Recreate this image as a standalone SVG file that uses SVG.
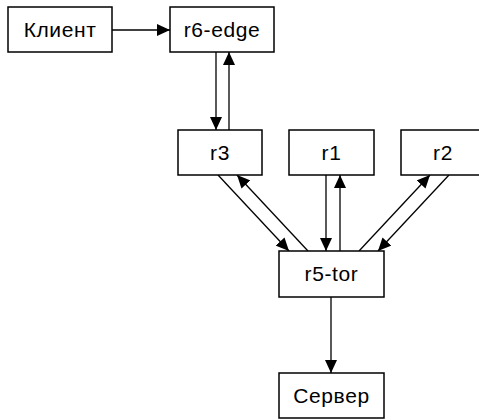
<svg xmlns="http://www.w3.org/2000/svg" width="479" height="420" viewBox="0 0 479 420">
<defs>
<style>
.box{fill:#fff;stroke:#000;stroke-width:1.5}
.lbl{font-family:"Liberation Sans",Arial,sans-serif;font-size:21px;letter-spacing:0.6px;fill:#000;text-anchor:middle}
.ln{stroke:#000;stroke-width:1.3;fill:none}
</style>
<marker id="ah" viewBox="0 0 13 12" refX="13" refY="6" markerWidth="13" markerHeight="12" markerUnits="userSpaceOnUse" orient="auto">
<path d="M0,0 L13,6 L0,12 Z" fill="#000"/>
</marker>
</defs>
<rect width="479" height="420" fill="#fff"/>
<g id="connectors">
<line class="ln" x1="112" y1="30" x2="170" y2="30" marker-end="url(#ah)"/>
<line class="ln" x1="216" y1="52" x2="216" y2="130" marker-end="url(#ah)"/>
<line class="ln" x1="229" y1="130" x2="229" y2="52" marker-end="url(#ah)"/>
<line class="ln" x1="218" y1="175" x2="289" y2="251" marker-end="url(#ah)"/>
<line class="ln" x1="308" y1="251" x2="237" y2="175" marker-end="url(#ah)"/>
<line class="ln" x1="326" y1="175" x2="326" y2="251" marker-end="url(#ah)"/>
<line class="ln" x1="340" y1="251" x2="340" y2="175" marker-end="url(#ah)"/>
<line class="ln" x1="359" y1="251" x2="430" y2="175" marker-end="url(#ah)"/>
<line class="ln" x1="449" y1="175" x2="378" y2="251" marker-end="url(#ah)"/>
<line class="ln" x1="331" y1="297" x2="331" y2="373" marker-end="url(#ah)"/>
</g>
<g id="node-client"><rect class="box" x="8" y="7" width="104" height="45"/><text class="lbl" x="60" y="37">Клиент</text></g>
<g id="node-r6-edge"><rect class="box" x="170" y="7" width="104" height="45"/><text class="lbl" x="222" y="37">r6-edge</text></g>
<g id="node-r3"><rect class="box" x="178" y="130" width="84" height="45"/><text class="lbl" x="220" y="160">r3</text></g>
<g id="node-r1"><rect class="box" x="289" y="130" width="85" height="45"/><text class="lbl" x="331.5" y="160">r1</text></g>
<g id="node-r2"><rect class="box" x="401" y="130" width="85" height="45"/><text class="lbl" x="443" y="160">r2</text></g>
<g id="node-r5-tor"><rect class="box" x="279" y="251" width="105" height="46"/><text class="lbl" x="331.5" y="281">r5-tor</text></g>
<g id="node-server"><rect class="box" x="279" y="373" width="105" height="45"/><text class="lbl" x="331.5" y="403">Сервер</text></g>
</svg>
